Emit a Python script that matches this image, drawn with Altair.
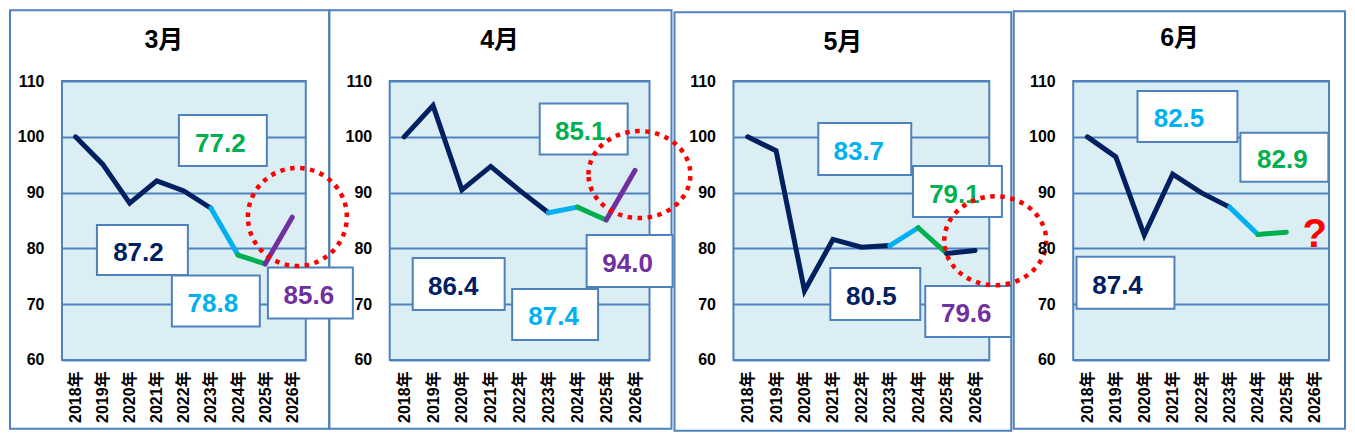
import altair as alt
import pandas as pd

# ---------------- data ----------------
years = [2018, 2019, 2020, 2021, 2022, 2023, 2024, 2025, 2026]
months = ["3月", "4月", "5月", "6月"]
mar = [100.0, 95.1, 88.1, 92.1, 90.3, 87.2, 78.8, 77.2, 85.6]
apr = [100.0, 105.6, 90.5, 94.7, 90.4, 86.4, 87.4, 85.1, 94.0]
may = [100.0, 97.5, 72.4, 81.6, 80.2, 80.5, 83.7, 79.1, 79.6]
jun = [100.0, 96.4, 82.4, 93.3, 90.0, 87.4, 82.5, 82.9, None]
series = [mar, apr, may, jun]
y_ticks = [60, 70, 80, 90, 100, 110]

# ---------------- styles ----------------
NAVY, LBLUE, GREEN, PURPLE = "#002060", "#00B0F0", "#00B050", "#7030A0"
BLUE = "#4F81BD"
BG = "#DBEEF4"
RED = "#FF0000"
FONT = "Liberation Sans, Noto Sans CJK JP"

# colour of each line segment (start index, end index, colour)
segments = [
    [(0, 5, NAVY), (5, 6, LBLUE), (6, 7, GREEN), (7, 8, PURPLE)],
    [(0, 5, NAVY), (5, 6, LBLUE), (6, 7, GREEN), (7, 8, PURPLE)],
    [(0, 5, NAVY), (5, 6, LBLUE), (6, 7, GREEN), (7, 8, NAVY)],
    [(0, 5, NAVY), (5, 6, LBLUE), (6, 7, GREEN)],
]
label_color = {2023: NAVY, 2024: LBLUE, 2025: GREEN, 2026: PURPLE}

# layout (annotation boxes in data units: year of value, centre x, centre y, w px, h px, text dx)
widths = [244, 260, 256, 256]
HEIGHT = 279
boxes = [
    [(2025, 2023.44, 99.34, 88, 51, -2.5), (2023, 2020.47, 79.71, 91, 50, -4),
     (2024, 2023.18, 70.57, 88, 51, -3), (2026, 2026.67, 72.01, 85, 51, -1.5)],
    [(2025, 2024.22, 101.40, 88, 51, -3.5), (2023, 2019.89, 73.62, 92, 52, -5.5),
     (2024, 2023.23, 68.15, 86, 51, -1.5), (2026, 2025.81, 77.74, 86, 52, -2)],
    [(2024, 2022.12, 97.81, 93, 52, -6), (2025, 2025.38, 90.19, 89, 51, -3),
     (2023, 2022.49, 71.83, 90, 52, -4), (2026, 2025.76, 68.68, 86, 51, -2)],
    [(2024, 2021.52, 103.67, 100, 51, -8.5), (2025, 2024.93, 96.33, 88, 49, -2),
     (2023, 2019.34, 73.85, 98, 52, -8)],
]
circles = [(2026.19, 85.63, 99, 98), (2026.15, 93.24, 102, 87), (2026.71, 81.37, 102, 89), None]
title_pos = [(102, -41), (110, -41), (109.5, -39.5), (106.5, -43.5)]
# outer frames, pixel offsets relative to the first plot area
frames = [(-52, 267.5, -71, 348), (267.5, 610, -71, 348),
          (613, 950, -69, 350), (952.5, 1284, -70, 348)]

one = pd.DataFrame({"k": [0]})


def xenc(field):
    return alt.X(field, type="quantitative",
                 scale=alt.Scale(domain=[2017.5, 2026.5], nice=False, zero=False),
                 axis=alt.Axis(values=years, grid=False, domain=False, ticks=False, tickSize=0,
                               labelAngle=270, labelAlign="right", labelBaseline="middle",
                               labelExpr="datum.value + '年'", labelPadding=11,
                               labelFont=FONT, labelFontSize=16, labelFontWeight="bold",
                               labelColor="black", labelFlush=False, labelOverlap=False,
                               title=None))


def yenc(field):
    return alt.Y(field, type="quantitative",
                 scale=alt.Scale(domain=[60, 110], nice=False, zero=False),
                 axis=alt.Axis(values=y_ticks, grid=True, gridColor=BLUE, gridWidth=2,
                               domain=False, ticks=False, tickSize=0, labelPadding=18,
                               labelFont=FONT, labelFontSize=16, labelFontWeight="bold",
                               labelColor="black", labelFlush=False, labelOverlap=False,
                               title=None))


def ellipse(ratio):
    return f"M-1,0A1,{ratio:.4f} 0 1,1 1,0A1,{ratio:.4f} 0 1,1 -1,0Z"


panels = []
for p in range(4):
    vals = series[p]
    layers = []
    if p == 0:
        for (fx1, fx2, fy1, fy2) in frames:
            layers.append(alt.Chart(one).mark_rect(fill="white", fillOpacity=0, stroke=BLUE,
                                                   strokeWidth=2).encode(
                x=alt.value(fx1), x2=alt.value(fx2), y=alt.value(fy1), y2=alt.value(fy2)))
    rows = []
    for s, (a, b, col) in enumerate(segments[p]):
        for i in range(a, b + 1):
            rows.append({"seg": s, "year": years[i], "value": vals[i], "color": col})
    line_df = pd.DataFrame(rows)
    layers.append(alt.Chart(line_df).mark_line(strokeWidth=5, strokeCap="round").encode(
        x=xenc("year"), y=yenc("value"), detail="seg:N",
        color=alt.Color("color:N", scale=None), order="year:Q"))

    for (yr, cx, cy, w, h, dx) in boxes[p]:
        v = vals[years.index(yr)]
        bdf = pd.DataFrame({"cx": [cx], "cy": [cy], "label": [f"{v:.1f}"]})
        base = alt.Chart(bdf)
        layers.append(base.mark_rect(fill="white", stroke=BLUE, strokeWidth=2,
                                     xOffset=-w / 2, x2Offset=w / 2,
                                     yOffset=-h / 2, y2Offset=h / 2).encode(
            x=xenc("cx"), x2="cx", y=yenc("cy"), y2="cy"))
        layers.append(base.mark_text(font=FONT, fontSize=26, fontWeight="bold",
                                     color=label_color[yr], dx=dx, dy=3,
                                     align="center", baseline="middle").encode(
            x=xenc("cx"), y=yenc("cy"), text="label:N"))

    if circles[p] is not None:
        cx, cy, w, h = circles[p]
        cdf = pd.DataFrame({"cx": [cx], "cy": [cy]})
        layers.append(alt.Chart(cdf).mark_point(shape=ellipse(h / w), size=w * w, filled=False,
                                                stroke=RED, strokeWidth=4.5, opacity=1,
                                                strokeDash=[4.5, 5.5]).encode(
            x=xenc("cx"), y=yenc("cy")))

    if p == 3:
        qdf = pd.DataFrame({"year": [years[8]], "value": [vals[7]], "q": ["?"]})
        layers.append(alt.Chart(qdf).mark_text(font="Liberation Sans", fontSize=40,
                                               fontWeight="bold", color=RED, dy=3,
                                               align="center", baseline="middle").encode(
            x=xenc("year"), y=yenc("value"), text="q:N"))

    tx, ty = title_pos[p]
    layers.append(alt.Chart(one).mark_text(font=FONT, fontSize=25, fontWeight="bold",
                                           color="black", align="center",
                                           baseline="middle").encode(
        x=alt.value(tx), y=alt.value(ty), text=alt.value(months[p])))

    panels.append(alt.layer(*layers).properties(width=widths[p], height=HEIGHT))

chart = alt.hconcat(*panels, spacing=84, bounds="flush").properties(
    padding=0, background="white"
).configure_view(fill=BG, stroke=BLUE, strokeWidth=2)

chart.save("out.html", embed_options={"renderer": "svg", "actions": False})
